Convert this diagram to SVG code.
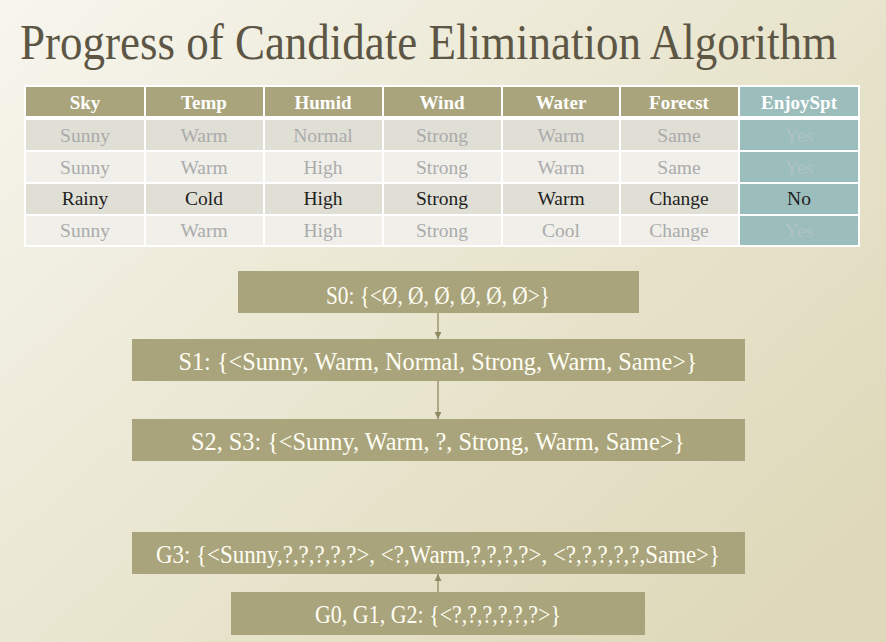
<svg xmlns="http://www.w3.org/2000/svg" width="886" height="642" viewBox="0 0 886 642">
<defs>
<linearGradient id="bg" x1="0" y1="0" x2="1" y2="0.8">
<stop offset="0" stop-color="#F7F6EE"/>
<stop offset="0.45" stop-color="#EBE8D4"/>
<stop offset="1" stop-color="#DFD9BA"/>
</linearGradient>
<marker id="ah" viewBox="0 0 10 10" refX="10" refY="5" markerWidth="7" markerHeight="7" markerUnits="userSpaceOnUse" orient="auto">
<path d="M0,0 L10,5 L0,10 z" fill="#8F8B63"/>
</marker>
</defs>
<style>
.hdr{fill:#A9A47B}
.r1{fill:#E0DFD6}
.r2{fill:#F0EFEA}
.tl{fill:#9BBDBC}
.ht{font-family:"Liberation Serif",serif;font-weight:bold;font-size:19px;fill:#FFFFFF;text-anchor:middle}
.ct{font-family:"Liberation Serif",serif;font-size:19.5px;text-anchor:middle;fill:#ABABAB}
.dk{fill:#1E1E1E}
.yf{fill:#AFC3C1}
.box{fill:#A9A47B}
.bt{font-family:"Liberation Serif",serif;font-size:26px;fill:#FFFEF4;text-anchor:middle}
.con{stroke:#9A966E;stroke-width:1.5;fill:none}
</style>
<rect width="886" height="642" fill="url(#bg)"/>
<text transform="translate(20,59) scale(0.9,1)" font-family="Liberation Serif, serif" font-size="50" fill="#5D5645">Progress of Candidate Elimination Algorithm</text>

<g id="table">
<rect x="24" y="85" width="836" height="162" fill="#FFFFFF"/>
<g>
<rect class="hdr" x="26" y="87" width="118" height="29"/>
<rect class="hdr" x="146" y="87" width="117" height="29"/>
<rect class="hdr" x="265" y="87" width="117" height="29"/>
<rect class="hdr" x="384" y="87" width="117" height="29"/>
<rect class="hdr" x="503" y="87" width="116" height="29"/>
<rect class="hdr" x="621" y="87" width="117" height="29"/>
<rect class="tl" x="740" y="87" width="118" height="29"/>
</g>
<g>
<rect class="r1" x="26" y="120" width="118" height="30"/>
<rect class="r1" x="146" y="120" width="117" height="30"/>
<rect class="r1" x="265" y="120" width="117" height="30"/>
<rect class="r1" x="384" y="120" width="117" height="30"/>
<rect class="r1" x="503" y="120" width="116" height="30"/>
<rect class="r1" x="621" y="120" width="117" height="30"/>
<rect class="tl" x="740" y="120" width="118" height="30"/>
<rect class="r2" x="26" y="152" width="118" height="30"/>
<rect class="r2" x="146" y="152" width="117" height="30"/>
<rect class="r2" x="265" y="152" width="117" height="30"/>
<rect class="r2" x="384" y="152" width="117" height="30"/>
<rect class="r2" x="503" y="152" width="116" height="30"/>
<rect class="r2" x="621" y="152" width="117" height="30"/>
<rect class="tl" x="740" y="152" width="118" height="30"/>
<rect class="r1" x="26" y="184" width="118" height="30"/>
<rect class="r1" x="146" y="184" width="117" height="30"/>
<rect class="r1" x="265" y="184" width="117" height="30"/>
<rect class="r1" x="384" y="184" width="117" height="30"/>
<rect class="r1" x="503" y="184" width="116" height="30"/>
<rect class="r1" x="621" y="184" width="117" height="30"/>
<rect class="tl" x="740" y="184" width="118" height="30"/>
<rect class="r2" x="26" y="216" width="118" height="29"/>
<rect class="r2" x="146" y="216" width="117" height="29"/>
<rect class="r2" x="265" y="216" width="117" height="29"/>
<rect class="r2" x="384" y="216" width="117" height="29"/>
<rect class="r2" x="503" y="216" width="116" height="29"/>
<rect class="r2" x="621" y="216" width="117" height="29"/>
<rect class="tl" x="740" y="216" width="118" height="29"/>
</g>
<g>
<text class="ht" x="85" y="109">Sky</text>
<text class="ht" x="204" y="109">Temp</text>
<text class="ht" x="323" y="109">Humid</text>
<text class="ht" x="442" y="109">Wind</text>
<text class="ht" x="561" y="109">Water</text>
<text class="ht" x="679" y="109">Forecst</text>
<text class="ht" x="799" y="109">EnjoySpt</text>
</g>
<g>
<text class="ct" x="85" y="142">Sunny</text>
<text class="ct" x="204" y="142">Warm</text>
<text class="ct" x="323" y="142">Normal</text>
<text class="ct" x="442" y="142">Strong</text>
<text class="ct" x="561" y="142">Warm</text>
<text class="ct" x="679" y="142">Same</text>
<text class="ct yf" x="799" y="142">Yes</text>
<text class="ct" x="85" y="174">Sunny</text>
<text class="ct" x="204" y="174">Warm</text>
<text class="ct" x="323" y="174">High</text>
<text class="ct" x="442" y="174">Strong</text>
<text class="ct" x="561" y="174">Warm</text>
<text class="ct" x="679" y="174">Same</text>
<text class="ct yf" x="799" y="174">Yes</text>
<text class="ct dk" x="85" y="205">Rainy</text>
<text class="ct dk" x="204" y="205">Cold</text>
<text class="ct dk" x="323" y="205">High</text>
<text class="ct dk" x="442" y="205">Strong</text>
<text class="ct dk" x="561" y="205">Warm</text>
<text class="ct dk" x="679" y="205">Change</text>
<text class="ct dk" x="799" y="205">No</text>
<text class="ct" x="85" y="237">Sunny</text>
<text class="ct" x="204" y="237">Warm</text>
<text class="ct" x="323" y="237">High</text>
<text class="ct" x="442" y="237">Strong</text>
<text class="ct" x="561" y="237">Cool</text>
<text class="ct" x="679" y="237">Change</text>
<text class="ct yf" x="799" y="237">Yes</text>
</g>
</g>

<g id="connectors">
<line class="con" x1="438" y1="313" x2="438" y2="339" marker-end="url(#ah)"/>
<line class="con" x1="438" y1="381" x2="438" y2="419" marker-end="url(#ah)"/>
<line class="con" x1="438" y1="592" x2="438" y2="574" marker-end="url(#ah)"/>
</g>

<g id="S0">
<rect class="box" x="238" y="271" width="401" height="42"/>
<text class="bt" x="438" y="304" textLength="224" lengthAdjust="spacingAndGlyphs">S0: {&lt;Ø, Ø, Ø, Ø, Ø, Ø&gt;}</text>
</g>
<g id="S1">
<rect class="box" x="132" y="339" width="613" height="42"/>
<text class="bt" x="438" y="370" textLength="519" lengthAdjust="spacingAndGlyphs">S1: {&lt;Sunny, Warm, Normal, Strong, Warm, Same&gt;}</text>
</g>
<g id="S2S3">
<rect class="box" x="132" y="419" width="613" height="42"/>
<text class="bt" x="438" y="450" textLength="494" lengthAdjust="spacingAndGlyphs">S2, S3: {&lt;Sunny, Warm, ?, Strong, Warm, Same&gt;}</text>
</g>
<g id="G3">
<rect class="box" x="132" y="532" width="613" height="42"/>
<text class="bt" x="438" y="563" textLength="564" lengthAdjust="spacingAndGlyphs">G3: {&lt;Sunny,?,?,?,?,?&gt;, &lt;?,Warm,?,?,?,?&gt;, &lt;?,?,?,?,?,Same&gt;}</text>
</g>
<g id="G0G1G2">
<rect class="box" x="231" y="592" width="414" height="43"/>
<text class="bt" x="438" y="623" textLength="246" lengthAdjust="spacingAndGlyphs">G0, G1, G2: {&lt;?,?,?,?,?,?&gt;}</text>
</g>
</svg>
